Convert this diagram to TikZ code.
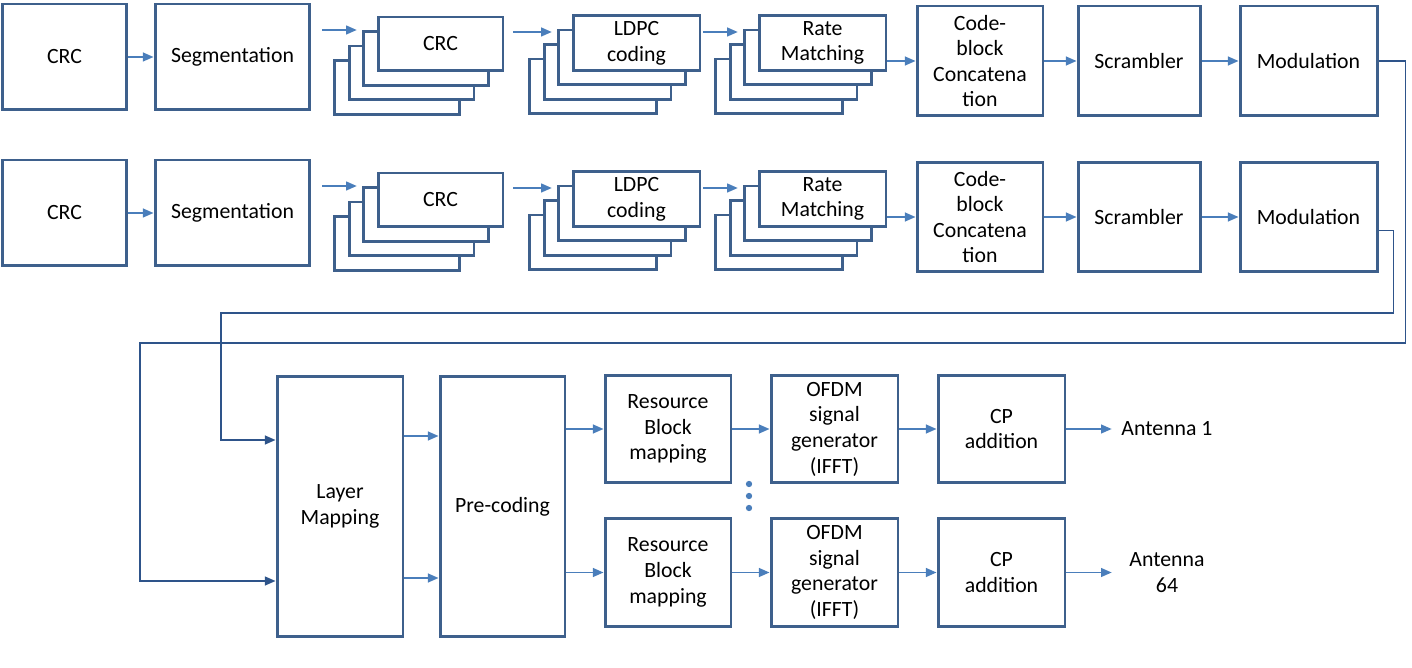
\documentclass[tikz,border=0pt]{standalone}
\usepackage{fontspec}
\setmainfont{Carlito}
\usetikzlibrary{arrows.meta, positioning, calc}
\definecolor{boxblue}{RGB}{62,96,140}
\definecolor{arrowblue}{RGB}{74,126,187}
\definecolor{linkblue}{RGB}{46,84,138}

\begin{document}
\begin{tikzpicture}[x=0.02cm, y=-0.02cm,
  every node/.style={font=\fontsize{12.4}{14.6}\selectfont, align=center, inner sep=0pt},
  blk/.style={draw=boxblue, line width=1.7pt, fill=white},
  arr/.style={-{Triangle[length=6pt, width=5pt]}, draw=arrowblue, line width=0.9pt},
  link/.style={draw=linkblue, line width=0.9pt}]
  \useasboundingbox (0,0) rectangle (1412,668);

  % two coding chains
  \foreach \r/\dy in {A/0, B/156} {
    \node[blk, minimum width=2.5cm, minimum height=2.12cm] (crc\r) at (64.5,57+\dy) {CRC};
    \node[blk, minimum width=3.1cm, minimum height=2.12cm] (seg\r) at (232.5,57+\dy) {Segmentation};
    % stacked blocks, back layers first
    \foreach \k in {3,2,1} {
      \node[blk, minimum width=2.5cm, minimum height=1.08cm] (crcS\r\k) at ({440.5-14.5*\k},{44+14.5*\k+\dy}) {};
      \node[blk, minimum width=2.54cm, minimum height=1.1cm] (ldpcS\r\k) at ({636.5-14.5*\k},{43+14.5*\k+\dy}) {};
      \node[blk, minimum width=2.54cm, minimum height=1.1cm] (rmS\r\k) at ({822.5-14.5*\k},{43+14.5*\k+\dy}) {};
    }
    \node[blk, minimum width=2.5cm, minimum height=1.08cm] (crcS\r) at (440.5,44+\dy) {CRC};
    \node[blk, minimum width=2.54cm, minimum height=1.1cm] (ldpcS\r) at (636.5,43+\dy) {LDPC\\coding};
    \node[blk, minimum width=2.54cm, minimum height=1.1cm] (rmS\r) at (822.5,43+\dy) {Rate\\Matching};
    \node[blk, minimum width=2.52cm, minimum height=2.2cm] (cb\r) at (980,61+\dy) {Code-\\block\\Concatena\\tion};
    \node[blk, minimum width=2.44cm, minimum height=2.2cm] (scr\r) at (1139,61+\dy) {Scrambler};
    \node[blk, minimum width=2.74cm, minimum height=2.2cm] (mod\r) at (1308.5,61+\dy) {Modulation};

    \coordinate (crcIn\r) at (322,30+\dy);
    \coordinate (ldpcIn\r) at (513,32+\dy);
    \coordinate (rmIn\r) at (703,32+\dy);

    \draw[arr] (crc\r) -- (seg\r);
    \draw[arr, shorten >=3pt] (crcIn\r) -- (crcIn\r -| crcS\r1.west);
    \draw[arr, shorten >=3pt] (ldpcIn\r) -- (ldpcIn\r -| ldpcS\r1.west);
    \draw[arr, shorten >=3pt] (rmIn\r) -- (rmIn\r -| rmS\r1.west);
    \draw[arr] (rmS\r.east |- cb\r.west) -- (cb\r.west);
    \draw[arr] (cb\r) -- (scr\r);
    \draw[arr] (scr\r) -- (mod\r);
  }

  % layer mapping and precoding
  \node[blk, minimum width=2.52cm, minimum height=5.22cm] (lmap) at (340,506.5) {Layer\\Mapping};
  \node[blk, minimum width=2.5cm, minimum height=5.22cm] (prec) at (502.5,506.5) {Pre-coding};
  \draw[arr] ($(lmap.east)+(0,-70.5)$) -- ($(prec.west)+(0,-70.5)$);
  \draw[arr] ($(lmap.east)+(0,71.5)$) -- ($(prec.west)+(0,71.5)$);

  % antenna branches
  \foreach \a/\y/\t in {1/429/Antenna 1, 64/572.5/Antenna\\64} {
    \node[blk, minimum width=2.52cm, minimum height=2.16cm] (rb\a) at (668,\y) {Resource\\Block\\mapping};
    \node[blk, minimum width=2.54cm, minimum height=2.16cm] (of\a) at (834.5,\y) {OFDM\\signal\\generator\\(IFFT)};
    \node[blk, minimum width=2.54cm, minimum height=2.16cm] (cp\a) at (1001.5,\y) {CP\\addition};
    \node[minimum width=2.2cm] (ant\a) at (1167,\y) {\t};
    \draw[arr] (prec.east |- rb\a) -- (rb\a);
    \draw[arr] (rb\a) -- (of\a);
    \draw[arr] (of\a) -- (cp\a);
    \draw[arr] (cp\a) -- (ant\a);
  }
  \foreach \d in {484,496,508}
    \fill[arrowblue] (749,\d) circle (1.8pt);

  % links from the modulators
  \coordinate (busA) at (140,343);
  \coordinate (busB) at (221,313);
  \draw[arr, link] (modA.east) -- ++(27,0) |- (busA) |- ($(lmap.west)+(0,74.5)$);
  \draw[arr, link] ($(modB.east)+(0,13.5)$) -- ++(15,0) |- (busB) |- ($(lmap.west)+(0,-66.5)$);
\end{tikzpicture}
\end{document}
